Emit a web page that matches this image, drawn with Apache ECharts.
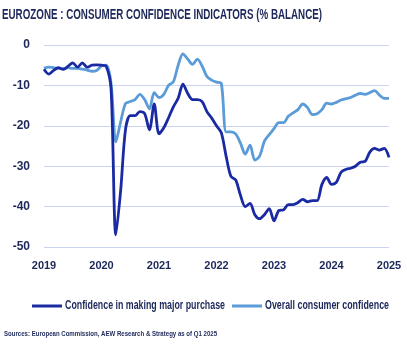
<!DOCTYPE html>
<html>
<head>
<meta charset="utf-8">
<script src="https://cdn.jsdelivr.net/npm/echarts@6/dist/echarts.min.js"></script>
<style>
  html, body { margin: 0; padding: 0; background: #fff; }
  #chart { width: 407px; height: 344px; }
</style>
</head>
<body>
<div id="chart"></div>
<script>
var FONT = '"Liberation Sans", Arial, sans-serif';
var NAVY = '#1d2759';
var DARK = '#1a2aa3';
var LIGHT = '#5b9bd8';

// monthly, Jan 2019 .. Jan 2025
var years = ['2019', '2020', '2021', '2022', '2023', '2024', '2025'];
var months = [];
years.forEach(function (y) {
  for (var m = 1; m <= 12; m++) {
    if (y === '2025' && m > 1) break;
    months.push(y + '-' + (m < 10 ? '0' + m : m));
  }
});

var majorPurchase = [
  -6, -7.2, -6.3, -5.6, -6, -5.3, -4.4, -5.5, -4.4, -5.5, -5, -4.9,
  -5, -5.3, -11, -47, -36, -21, -17.5, -17.5, -16.5, -17, -21, -14.6,
  -22, -20.5, -18, -15.3, -13.2, -9.7, -12, -13.5, -13.5, -14, -16.5, -18.1,
  -20, -21.7, -27.5, -32.5, -33.4, -37.2, -40, -39.2, -42, -43, -42, -40.5,
  -43.5, -41, -40.8, -39.5, -39.5, -39, -38.2, -38.8, -38.5, -38.5, -34.5, -32.8,
  -34.5, -34, -31.5, -30.8, -30.5, -30, -29, -28.8, -26.5, -25.6, -26, -25.6,
  -27.8
];

var overall = [
  -5.8, -5.5, -5.6, -5.8, -5.9, -5.6, -5.8, -5.8, -6, -6.2, -6.5, -6.3,
  -5.2, -5, -9.5, -24, -19, -14.5, -14, -13.5, -12.2, -13.5, -15.8, -11.8,
  -13, -12.2, -10, -9.1, -5, -2.2, -3.5, -4.8, -3.5, -5.2, -7.8, -8.7,
  -9.2, -9.5, -21.5, -21.5, -22, -24.3, -27, -24.8, -28.5, -27.5, -23.8, -22.2,
  -20.7, -19.2, -19.2, -17.6, -16.8, -16, -14.6, -15.5, -17.2, -17, -16, -14.4,
  -14.6, -14.2, -13.6, -13.3, -13, -12.4, -12, -12.2, -11.8, -11.3, -12.4, -13.2,
  -13.2
];

var seriesNames = ['Confidence in making major purchase', 'Overall consumer confidence'];
var titleText = 'EUROZONE : CONSUMER CONFIDENCE INDICATORS (% BALANCE)';
var sourceText = 'Sources: European Commission, AEW Research & Strategy as of Q1 2025';

// the house font is condensed; squeeze the nearest installed one to the same width
var measureCtx = document.createElement('canvas').getContext('2d');
function squeezed(text, font, width, x, y, fill) {
  measureCtx.font = font;
  var w = measureCtx.measureText(text).width;
  return {
    type: 'text',
    x: x,
    y: y,
    scaleX: width / w,
    silent: true,
    style: { text: text, font: font, fill: fill, verticalAlign: 'middle' }
  };
}

function legendLine(x, y, color) {
  return {
    type: 'line',
    silent: true,
    shape: { x1: x, y1: y, x2: x + 30, y2: y },
    style: { stroke: color, lineWidth: 3 }
  };
}

var myChart = echarts.init(document.getElementById('chart'));

var option = {
  animation: false,
  graphic: [
    squeezed(titleText, 'bold 14px ' + FONT, 320, 2, 15, NAVY),
    legendLine(32, 306, DARK),
    squeezed(seriesNames[0], 'bold 12px ' + FONT, 160, 65, 306, NAVY),
    legendLine(232, 306, LIGHT),
    squeezed(seriesNames[1], 'bold 12px ' + FONT, 124, 265, 306, NAVY),
    squeezed(sourceText, 'bold 8px ' + FONT, 213, 4, 334, NAVY)
  ],
  grid: {
    left: 44,
    right: 18,
    top: 45,
    bottom: 97,
    containLabel: false
  },
  xAxis: {
    type: 'category',
    data: months,
    boundaryGap: false,
    axisLine: { show: false },
    axisTick: { show: false },
    splitLine: { show: false },
    axisLabel: {
      interval: function (i) { return i % 12 === 0; },
      formatter: function (v) { return v.slice(0, 4); },
      margin: 13,
      fontFamily: FONT,
      fontSize: 11,
      fontWeight: 'bold',
      color: NAVY
    }
  },
  yAxis: {
    type: 'value',
    min: -50,
    max: 0,
    interval: 10,
    axisLine: { show: false },
    axisTick: { show: false },
    splitLine: { lineStyle: { color: '#ccd3ee', width: 1 } },
    axisLabel: {
      margin: 14,
      fontFamily: FONT,
      fontSize: 12,
      fontWeight: 'bold',
      color: NAVY
    }
  },
  series: [{
    name: seriesNames[0],
    type: 'line',
    data: majorPurchase,
    smooth: 0.3,
    symbol: 'none',
    z: 3,
    lineStyle: { color: DARK, width: 2.8 }
  }, {
    name: seriesNames[1],
    type: 'line',
    data: overall,
    smooth: 0.3,
    symbol: 'none',
    z: 2,
    lineStyle: { color: LIGHT, width: 2.8 }
  }]
};

myChart.setOption(option);
</script>
</body>
</html>
